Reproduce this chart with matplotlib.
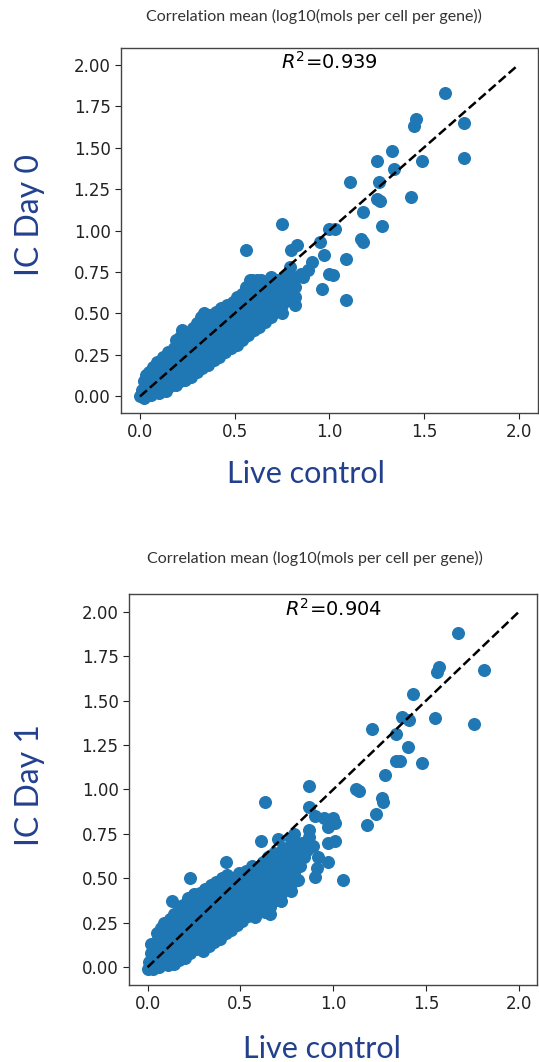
import numpy as np
import matplotlib.pyplot as plt

# (live control, IC) mean log10 values
day0_core = [
    (0.00, 0.00), (0.01, 0.04), (0.02, -0.01), (0.02, 0.09), (0.03, 0.13), (0.04, 0.02), (0.04, 0.06),
    (0.05, 0.15), (0.06, 0.01), (0.06, 0.10), (0.07, 0.18), (0.08, 0.03), (0.08, 0.07), (0.09, 0.13),
    (0.09, 0.21), (0.10, 0.02), (0.11, 0.08), (0.11, 0.17), (0.12, 0.24), (0.12, 0.04), (0.13, 0.12),
    (0.14, 0.03), (0.14, 0.09), (0.14, 0.16), (0.15, 0.21), (0.15, 0.27), (0.16, 0.06), (0.17, 0.11),
    (0.17, 0.18), (0.17, 0.24), (0.18, 0.29), (0.19, 0.07), (0.19, 0.13), (0.19, 0.34), (0.20, 0.20),
    (0.20, 0.26), (0.21, 0.09), (0.21, 0.31), (0.21, 0.36), (0.22, 0.40), (0.22, 0.15), (0.23, 0.22),
    (0.24, 0.10), (0.24, 0.28), (0.24, 0.34), (0.25, 0.17), (0.25, 0.38), (0.26, 0.24), (0.27, 0.12),
    (0.27, 0.30), (0.28, 0.19), (0.28, 0.36), (0.28, 0.41), (0.29, 0.26), (0.30, 0.15), (0.30, 0.33),
    (0.30, 0.44), (0.31, 0.21), (0.31, 0.39), (0.32, 0.48), (0.32, 0.28), (0.33, 0.17), (0.33, 0.35),
    (0.34, 0.42), (0.34, 0.50), (0.35, 0.23), (0.35, 0.30), (0.36, 0.19), (0.36, 0.37), (0.37, 0.45),
    (0.37, 0.49), (0.38, 0.26), (0.38, 0.32), (0.39, 0.22), (0.39, 0.40), (0.40, 0.51), (0.40, 0.46),
    (0.41, 0.28), (0.41, 0.35), (0.42, 0.24), (0.42, 0.42), (0.43, 0.53), (0.43, 0.31), (0.44, 0.48),
    (0.44, 0.38), (0.45, 0.27), (0.45, 0.44), (0.46, 0.55), (0.46, 0.33), (0.47, 0.50), (0.47, 0.40),
    (0.48, 0.29), (0.48, 0.46), (0.49, 0.57), (0.49, 0.36), (0.50, 0.52), (0.50, 0.43), (0.51, 0.31),
    (0.51, 0.60), (0.52, 0.49), (0.52, 0.38), (0.53, 0.55), (0.53, 0.45), (0.54, 0.34), (0.54, 0.62),
    (0.55, 0.41), (0.55, 0.51), (0.56, 0.58), (0.56, 0.66), (0.57, 0.37), (0.57, 0.47), (0.58, 0.70),
    (0.58, 0.54), (0.59, 0.43), (0.59, 0.62), (0.60, 0.40), (0.60, 0.50), (0.61, 0.57), (0.61, 0.68),
    (0.62, 0.46), (0.62, 0.64), (0.63, 0.42), (0.63, 0.53), (0.64, 0.60), (0.64, 0.70), (0.65, 0.49),
    (0.66, 0.45), (0.66, 0.56), (0.67, 0.64), (0.67, 0.69), (0.68, 0.52), (0.69, 0.48), (0.69, 0.60),
    (0.70, 0.71), (0.71, 0.56), (0.71, 0.66), (0.72, 0.52), (0.73, 0.62), (0.73, 0.70), (0.74, 0.57),
    (0.75, 0.55), (0.75, 0.67), (0.76, 0.72), (0.77, 0.61), (0.78, 0.58), (0.78, 0.66), (0.79, 0.73),
    (0.80, 0.63), (0.81, 0.69), (0.82, 0.60),
    (0.03, 0.05), (0.07, 0.09), (0.10, 0.15), (0.13, 0.20), (0.16, 0.13), (0.18, 0.21), (0.20, 0.15),
    (0.23, 0.18), (0.23, 0.32), (0.26, 0.28), (0.26, 0.14), (0.29, 0.22), (0.29, 0.38), (0.32, 0.24),
    (0.32, 0.41), (0.34, 0.27), (0.37, 0.34), (0.37, 0.22), (0.40, 0.37), (0.40, 0.30), (0.43, 0.40),
    (0.43, 0.27), (0.46, 0.41), (0.46, 0.48), (0.49, 0.32), (0.49, 0.44), (0.52, 0.44), (0.52, 0.55),
    (0.55, 0.36), (0.55, 0.47), (0.58, 0.45), (0.58, 0.59), (0.61, 0.48), (0.64, 0.50), (0.64, 0.65),
    (0.67, 0.54), (0.70, 0.58), (0.72, 0.62), (0.76, 0.63),
]
day0_outliers = [
    (1.61, 1.83), (1.46, 1.67), (1.45, 1.63), (1.71, 1.65), (1.71, 1.44), (1.33, 1.48), (1.25, 1.42),
    (1.49, 1.42), (1.34, 1.37), (1.11, 1.29), (1.26, 1.29), (1.43, 1.20), (1.25, 1.19), (1.27, 1.18),
    (1.18, 1.11), (1.28, 1.03), (0.75, 1.04), (1.00, 1.01), (1.03, 1.01), (1.17, 0.95), (1.18, 0.93),
    (0.56, 0.88), (0.95, 0.93), (0.80, 0.88), (0.83, 0.91), (0.91, 0.81), (0.97, 0.85), (1.09, 0.83),
    (1.00, 0.74), (1.02, 0.73), (0.96, 0.65), (1.09, 0.58), (0.82, 0.55), (0.75, 0.50), (0.89, 0.76),
    (0.86, 0.72), (0.82, 0.66), (0.59, 0.70), (0.62, 0.70), (0.69, 0.72), (0.85, 0.74), (0.79, 0.78),
]

day1_core = [
    (0.00, -0.01), (0.01, 0.03), (0.02, 0.08), (0.02, 0.13), (0.03, -0.01), (0.04, 0.04), (0.04, 0.10),
    (0.05, 0.15), (0.05, 0.19), (0.06, 0.00), (0.06, 0.06), (0.07, 0.12), (0.07, 0.22), (0.08, 0.17),
    (0.08, 0.02), (0.09, 0.08), (0.09, 0.25), (0.10, 0.13), (0.10, 0.20), (0.11, 0.01), (0.11, 0.06),
    (0.12, 0.16), (0.12, 0.27), (0.13, 0.10), (0.13, 0.22), (0.14, 0.02), (0.14, 0.30), (0.15, 0.07),
    (0.15, 0.13), (0.15, 0.19), (0.16, 0.25), (0.17, 0.04), (0.17, 0.32), (0.17, 0.10), (0.18, 0.16),
    (0.18, 0.21), (0.19, 0.28), (0.19, 0.35), (0.20, 0.05), (0.20, 0.12), (0.21, 0.18), (0.21, 0.24),
    (0.22, 0.31), (0.22, 0.39), (0.23, 0.08), (0.23, 0.14), (0.24, 0.21), (0.24, 0.27), (0.24, 0.35),
    (0.25, 0.41), (0.26, 0.10), (0.26, 0.17), (0.27, 0.24), (0.27, 0.31), (0.28, 0.37), (0.28, 0.42),
    (0.29, 0.13), (0.29, 0.20), (0.30, 0.09), (0.30, 0.27), (0.30, 0.34), (0.31, 0.40), (0.31, 0.44),
    (0.32, 0.16), (0.32, 0.23), (0.33, 0.12), (0.33, 0.30), (0.34, 0.37), (0.34, 0.46), (0.35, 0.19),
    (0.35, 0.26), (0.36, 0.14), (0.36, 0.33), (0.36, 0.42), (0.37, 0.48), (0.38, 0.22), (0.38, 0.29),
    (0.39, 0.16), (0.39, 0.37), (0.39, 0.45), (0.40, 0.50), (0.41, 0.25), (0.41, 0.32), (0.42, 0.19),
    (0.42, 0.41), (0.43, 0.47), (0.43, 0.52), (0.44, 0.28), (0.44, 0.36), (0.45, 0.21), (0.45, 0.44),
    (0.46, 0.50), (0.47, 0.31), (0.47, 0.39), (0.48, 0.24), (0.48, 0.47), (0.49, 0.53), (0.50, 0.34),
    (0.50, 0.42), (0.51, 0.26), (0.51, 0.50), (0.52, 0.37), (0.53, 0.45), (0.53, 0.54), (0.54, 0.29),
    (0.54, 0.40), (0.55, 0.49), (0.56, 0.33), (0.56, 0.57), (0.57, 0.44), (0.57, 0.52), (0.58, 0.28),
    (0.58, 0.38), (0.59, 0.48), (0.60, 0.55), (0.60, 0.33), (0.61, 0.42), (0.62, 0.59), (0.62, 0.51),
    (0.63, 0.31), (0.63, 0.37), (0.64, 0.46), (0.65, 0.55), (0.65, 0.62), (0.66, 0.34), (0.66, 0.41),
    (0.67, 0.50), (0.68, 0.58), (0.68, 0.64), (0.69, 0.38), (0.69, 0.45), (0.70, 0.54), (0.71, 0.61),
    (0.72, 0.41), (0.72, 0.49), (0.73, 0.67), (0.73, 0.57), (0.74, 0.45), (0.75, 0.52), (0.75, 0.63),
    (0.77, 0.47), (0.77, 0.58), (0.78, 0.68), (0.79, 0.53), (0.80, 0.62), (0.81, 0.49), (0.82, 0.57),
    (0.03, 0.06), (0.05, 0.10), (0.08, 0.12), (0.10, 0.04), (0.11, 0.24), (0.13, 0.15), (0.16, 0.18),
    (0.16, 0.07), (0.19, 0.10), (0.20, 0.24), (0.22, 0.12), (0.23, 0.28), (0.25, 0.20), (0.26, 0.33),
    (0.28, 0.14), (0.29, 0.28), (0.31, 0.19), (0.31, 0.35), (0.33, 0.27), (0.35, 0.40), (0.37, 0.30),
    (0.38, 0.41), (0.40, 0.21), (0.40, 0.34), (0.42, 0.30), (0.43, 0.43), (0.46, 0.27), (0.46, 0.36),
    (0.48, 0.41), (0.49, 0.30), (0.52, 0.46), (0.52, 0.31), (0.55, 0.38), (0.55, 0.53), (0.58, 0.48),
    (0.59, 0.41), (0.61, 0.36), (0.62, 0.46), (0.64, 0.54), (0.66, 0.46), (0.67, 0.56), (0.70, 0.46),
    (0.71, 0.50), (0.74, 0.55), (0.76, 0.60),
]
day1_outliers = [
    (1.67, 1.88), (1.57, 1.69), (1.56, 1.66), (1.81, 1.67), (1.43, 1.54), (1.37, 1.41), (1.41, 1.39),
    (1.55, 1.40), (1.76, 1.37), (1.21, 1.34), (1.34, 1.31), (1.40, 1.24), (1.34, 1.16), (1.36, 1.16),
    (1.48, 1.15), (1.28, 1.08), (0.87, 1.02), (1.12, 1.00), (1.14, 0.99), (1.26, 0.95), (1.27, 0.93),
    (0.63, 0.93), (0.87, 0.90), (1.23, 0.86), (1.18, 0.80), (0.90, 0.85), (0.95, 0.84), (1.00, 0.84),
    (0.97, 0.79), (1.01, 0.81), (1.01, 0.71), (0.97, 0.70), (0.61, 0.71), (0.70, 0.72), (0.77, 0.72),
    (0.87, 0.77), (0.87, 0.73), (0.89, 0.68), (0.81, 0.64), (0.97, 0.59), (0.90, 0.51), (0.91, 0.56),
    (1.05, 0.49), (0.42, 0.59), (0.23, 0.50), (0.13, 0.37), (0.77, 0.43), (0.72, 0.37), (0.66, 0.30),
    (0.84, 0.62), (0.86, 0.66), (0.83, 0.70), (0.79, 0.75), (0.92, 0.62),
]

r2_values = ['0.939', '0.904']
ylabels = ['IC Day 0', 'IC Day 1']
title = 'Correlation mean (log10(mols per cell per gene))'
ticks_x = [0.0, 0.5, 1.0, 1.5, 2.0]
ticks_y = [0.0, 0.25, 0.5, 0.75, 1.0, 1.25, 1.5, 1.75, 2.0]

label_color = '#22408c'

fig = plt.figure(figsize=(5.39, 10.62), dpi=100)
ax1 = fig.add_axes([0.2245, 0.6111, 0.7728, 0.3437])
ax2 = fig.add_axes([0.2393, 0.0725, 0.7579, 0.3682])

panels = [(ax1, day0_core + day0_outliers), (ax2, day1_core + day1_outliers)]
for i, (ax, pts) in enumerate(panels):
    xy = np.array(pts)
    ax.scatter(xy[:, 0], xy[:, 1], s=70, color='#1f77b4', zorder=2)
    ax.plot([0, 2], [0, 2], 'k--', linewidth=1.8, zorder=3)
    ax.set_xlim(-0.1, 2.1)
    ax.set_ylim(-0.1, 2.1)
    ax.set_xticks(ticks_x, ['%.1f' % t for t in ticks_x], fontsize=12)
    ax.set_yticks(ticks_y, ['%.2f' % t for t in ticks_y], fontsize=12)
    ax.tick_params(colors='#222222', length=4)
    for sp in ax.spines.values():
        sp.set_color('#444444')
        sp.set_linewidth(1.0)
    ax.text(0.5, 0.961, r'$R^2$=' + r2_values[i], transform=ax.transAxes,
            ha='center', va='center', fontsize=14)

# titles, axis labels placed on the figure
fig.text(314 / 539, 1 - 16 / 1062, title, ha='center', va='center',
         fontsize=11.5, family='Lato', color='#333333')
fig.text(315 / 539, 1 - 558 / 1062, title, ha='center', va='center',
         fontsize=11.5, family='Lato', color='#333333')
fig.text(306 / 539, 1 - 483 / 1062, 'Live control', ha='center', va='baseline',
         fontsize=22, family='Lato', color=label_color)
fig.text(322 / 539, 1 - 1058 / 1062, 'Live control', ha='center', va='baseline',
         fontsize=22, family='Lato', color=label_color)
fig.text(30 / 539, 1 - 215 / 1062, ylabels[0], ha='center', va='center', rotation=90,
         fontsize=23, family='Lato', color=label_color)
fig.text(30 / 539, 1 - 785 / 1062, ylabels[1], ha='center', va='center', rotation=90,
         fontsize=23, family='Lato', color=label_color)

plt.savefig('out.png', dpi=100)
